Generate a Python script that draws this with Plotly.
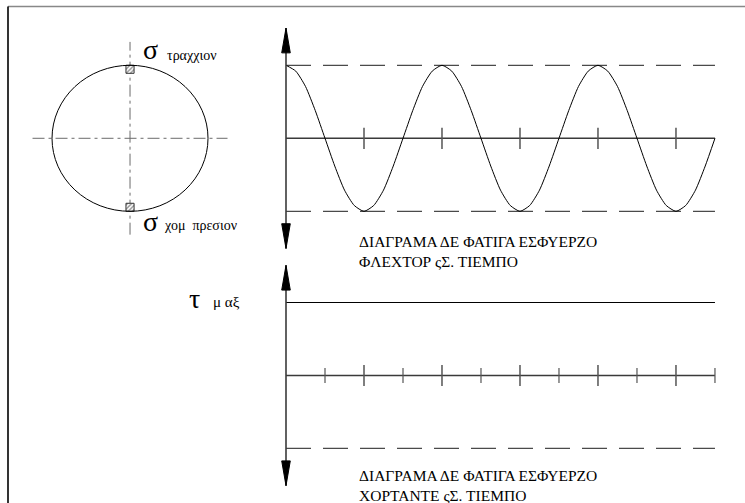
import plotly.graph_objects as go

# ---------------------------------------------------------------
# Data
# ---------------------------------------------------------------
# time axis in half-periods of the shaft rotation
T_FLEX = [0.0, 0.125, 0.25, 0.375, 0.5, 0.625, 0.75, 0.875,
          1.0, 1.125, 1.25, 1.375, 1.5, 1.625, 1.75, 1.875,
          2.0, 2.125, 2.25, 2.375, 2.5, 2.625, 2.75, 2.875,
          3.0, 3.125, 3.25, 3.375, 3.5, 3.625, 3.75, 3.875,
          4.0, 4.125, 4.25, 4.375, 4.5, 4.625, 4.75, 4.875,
          5.0, 5.125, 5.25, 5.375, 5.5]
# normalised bending stress sigma / sigma_max
SIGMA_FLEX = [1.00, 0.92, 0.71, 0.38, 0.00, -0.38, -0.71, -0.92,
              -1.00, -0.92, -0.71, -0.38, 0.00, 0.38, 0.71, 0.92,
              1.00, 0.92, 0.71, 0.38, 0.00, -0.38, -0.71, -0.92,
              -1.00, -0.92, -0.71, -0.38, 0.00, 0.38, 0.71, 0.92,
              1.00, 0.92, 0.71, 0.38, 0.00, -0.38, -0.71, -0.92,
              -1.00, -0.92, -0.71, -0.38, 0.00]

T_END = 5.5
SIGMA_MAX = 1.0
SIGMA_MIN = -1.0
TAU_MAX = 1.0
TAU_MIN = -1.0

MAJOR_TICKS = [1, 2, 3, 4, 5]
MINOR_TICKS = [0.5, 1.5, 2.5, 3.5, 4.5, 5.5]

# shaft cross-section (same units as the upper diagram)
SHAFT_CX = -2.0
SHAFT_R = 1.0

TITLE_FLEX = "ΔΙΑΓΡΑΜΑ ΔΕ ΦΑΤΙΓΑ ΕΣΦΥΕΡΖΟ<br>ΦΛΕΧΤΟΡ ςΣ. ΤΙΕΜΠΟ"
TITLE_SHEAR = "ΔΙΑΓΡΑΜΑ ΔΕ ΦΑΤΙΓΑ ΕΣΦΥΕΡΖΟ<br>ΧΟΡΤΑΝΤΕ ςΣ. ΤΙΕΜΠΟ"

# ---------------------------------------------------------------
# Styling
# ---------------------------------------------------------------
W, H = 745, 503
X_RANGE = [-3.667, 5.885]
Y_TOP_RANGE = [-4.995, 1.894]
Y_BOT_RANGE = [-1.747, 5.144]

AXIS_COLOR = "#3a3a3a"
DASH_COLOR = "#4a4a4a"
SERIF = "Liberation Serif"
ARROW_TIP = 1.51
ARROW_BASE = 1.17
ARROW_HALF = 0.055
MAJOR_HALF = 0.145
MINOR_HALF = 0.103

fig = go.Figure()


def seg_trace(xs, ys, yaxis, color, width, dash="solid"):
    return go.Scatter(x=xs, y=ys, mode="lines", yaxis=yaxis,
                      line=dict(color=color, width=width, dash=dash),
                      hoverinfo="skip", showlegend=False)


def ticks(positions, half, yaxis, width):
    xs, ys = [], []
    for p in positions:
        xs += [p, p, None]
        ys += [-half, half, None]
    return seg_trace(xs, ys, yaxis, "#555555", width)


def double_arrow(yaxis):
    traces = [seg_trace([0, 0], [-ARROW_TIP, ARROW_TIP], yaxis, AXIS_COLOR, 1.6)]
    for s in (1, -1):
        traces.append(go.Scatter(
            x=[-ARROW_HALF, 0, ARROW_HALF, -ARROW_HALF],
            y=[s * ARROW_BASE, s * ARROW_TIP, s * ARROW_BASE, s * ARROW_BASE],
            mode="lines", fill="toself", fillcolor="black", yaxis=yaxis,
            line=dict(color="black", width=1), hoverinfo="skip", showlegend=False))
    return traces


# ---- upper diagram: bending stress vs time ----
for lvl in (SIGMA_MAX, SIGMA_MIN):
    fig.add_trace(seg_trace([0, T_END], [lvl, lvl], "y", DASH_COLOR, 1.3, "25px,12px"))
fig.add_trace(seg_trace([0, T_END], [0, 0], "y", AXIS_COLOR, 1.5))
fig.add_trace(ticks(MAJOR_TICKS, MAJOR_HALF, "y", 1.5))
fig.add_trace(go.Scatter(x=T_FLEX, y=SIGMA_FLEX, mode="lines", yaxis="y",
                         line=dict(color="black", width=1, shape="spline", smoothing=0.6),
                         hoverinfo="skip", showlegend=False))
for tr in double_arrow("y"):
    fig.add_trace(tr)

# ---- lower diagram: shear stress vs time ----
fig.add_trace(seg_trace([0, T_END], [TAU_MAX, TAU_MAX], "y2", "black", 1.1))
fig.add_trace(seg_trace([0, T_END], [TAU_MIN, TAU_MIN], "y2", DASH_COLOR, 1.3, "25px,12px"))
fig.add_trace(seg_trace([0, T_END], [0, 0], "y2", AXIS_COLOR, 1.5))
fig.add_trace(ticks(MAJOR_TICKS, MAJOR_HALF, "y2", 1.5))
fig.add_trace(ticks(MINOR_TICKS, MINOR_HALF, "y2", 1.2))
for tr in double_arrow("y2"):
    fig.add_trace(tr)

# ---- shaft section with centre lines and the two stressed elements ----
fig.add_trace(seg_trace([SHAFT_CX - 1.25, SHAFT_CX + 1.25], [0, 0], "y",
                        "#6a6a6a", 1, "12px,4px,3px,4px"))
fig.add_trace(seg_trace([SHAFT_CX, SHAFT_CX], [-1.32, 1.32], "y",
                        "#6a6a6a", 1, "12px,4px,3px,4px"))
for yc in (0.945, -0.945):
    hx, hy = 0.052, 0.055
    fig.add_trace(go.Scatter(
        x=[SHAFT_CX - hx, SHAFT_CX + hx, SHAFT_CX + hx, SHAFT_CX - hx, SHAFT_CX - hx],
        y=[yc - hy, yc - hy, yc + hy, yc + hy, yc - hy],
        mode="lines", fill="toself", fillcolor="white",
        fillpattern=dict(shape="/", size=3, solidity=0.45, fgcolor="#222222", bgcolor="white"),
        line=dict(color="#333333", width=1), yaxis="y",
        hoverinfo="skip", showlegend=False))

shapes = [
    dict(type="circle", xref="x", yref="y",
         x0=SHAFT_CX - SHAFT_R, x1=SHAFT_CX + SHAFT_R, y0=-SHAFT_R, y1=SHAFT_R,
         line=dict(color="black", width=1)),
    # sheet frame
    dict(type="line", xref="paper", yref="paper", x0=8 / W, x1=1,
         y0=1 - 6.5 / H, y1=1 - 6.5 / H, line=dict(color="#888888", width=1.6)),
    dict(type="line", xref="paper", yref="paper", x0=8 / W, x1=8 / W,
         y0=0, y1=1 - 6.5 / H, line=dict(color="black", width=1.6)),
]


def label(x, y, text, size, yref="y"):
    return dict(x=x, y=y, xref="x", yref=yref, text=text, showarrow=False,
                xanchor="left", yanchor="middle", align="left",
                font=dict(family=SERIF, size=size, color="black"))


annotations = [
    label(-1.86, 1.21, "σ", 28),
    label(-1.55, 1.14, "τραχχιον", 14),
    label(-1.86, -1.14, "σ", 28),
    label(-1.59, -1.19, "χομ  πρεσιον", 14),
    label(-1.27, 1.06, "τ", 28, "y2"),
    label(-0.96, 1.01, "μ αξ", 15, "y2"),
    label(0.91, -1.545, TITLE_FLEX, 15.5),
    label(0.91, -1.505, TITLE_SHEAR, 15.5, "y2"),
]

fig.update_layout(
    width=W, height=H, autosize=False,
    margin=dict(l=0, r=0, t=0, b=0, pad=0),
    paper_bgcolor="white", plot_bgcolor="white",
    showlegend=False,
    xaxis=dict(range=X_RANGE, visible=False, fixedrange=True),
    yaxis=dict(range=Y_TOP_RANGE, visible=False, fixedrange=True),
    yaxis2=dict(range=Y_BOT_RANGE, visible=False, overlaying="y", fixedrange=True),
    shapes=shapes,
    annotations=annotations,
)

fig.write_html("out.html", config=dict(displayModeBar=False, staticPlot=True))
